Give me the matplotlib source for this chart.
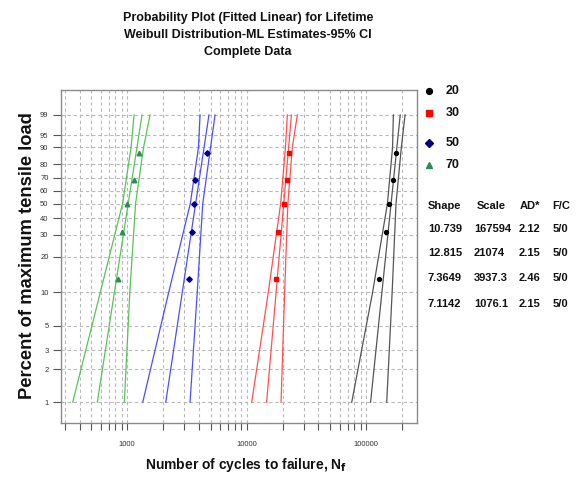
import numpy as np
import matplotlib
matplotlib.use("Agg")
import matplotlib.pyplot as plt
from matplotlib.ticker import FixedLocator, NullFormatter, LogLocator

# ---------------- data ----------------
loads = ["20", "30", "50", "70"]
shape = [10.739, 12.815, 7.3649, 7.1142]
scale = [167594, 21074, 3937.3, 1076.1]
scale_txt = ["167594", "21074", "3937.3", "1076.1"]
ad_stat = ["2.12", "2.15", "2.46", "2.15"]
fc = ["5/0", "5/0", "5/0", "5/0"]

# plotting positions (percent) of the 5 failures
rank_pct = [12.94, 31.48, 50.0, 68.52, 87.06]
cycles_20 = [129200, 146200, 155800, 169300, 178200]
cycles_30 = [17560, 18450, 20600, 21700, 22680]
cycles_50 = [3322, 3478, 3658, 3707, 4644]
cycles_70 = [836, 913, 994, 1145, 1260]

# 95% confidence bands read at these percent levels
ci_pct = [1, 10, 50, 90, 99]
ci_low_20 = [75930, 113600, 151000, 166700, 169300]
ci_up_20 = [149000, 165400, 178200, 197400, 212100]
ci_low_30 = [11050, 15220, 19290, 21160, 21950]
ci_up_30 = [19440, 20840, 22160, 24170, 26610]
ci_low_50 = [1353, 2234, 3381, 3958, 4083]
ci_up_50 = [3367, 3867, 4300, 4995, 5450]
ci_low_70 = [351, 598, 917, 1080, 1145]
ci_up_70 = [949, 1055, 1178, 1374, 1558]

y_ticks = [1, 2, 3, 5, 10, 20, 30, 40, 50, 60, 70, 80, 90, 95, 99]
x_ticks = [1000, 10000, 100000]
fit_pct = [1, 99]

title_lines = ["Probability Plot (Fitted Linear) for Lifetime",
               "Weibull Distribution-ML Estimates-95% CI",
               "Complete Data"]

# ---------------- style ----------------
line_colors = ["#555555", "#ff5050", "#4d4dff", "#55c455"]
marker_colors = ["#000000", "#ff0000", "#00008b", "#2e8b57"]
markers = ["o", "s", "D", "^"]
sans = ["Liberation Sans", "DejaVu Sans"]

cycles = [cycles_20, cycles_30, cycles_50, cycles_70]
ci_low = [ci_low_20, ci_low_30, ci_low_50, ci_low_70]
ci_up = [ci_up_20, ci_up_30, ci_up_50, ci_up_70]


def fwd(p):
    p = np.clip(np.asarray(p, dtype=float), 1e-9, 100 - 1e-9)
    return np.log(-np.log(1 - p / 100.0))


def inv(w):
    return 100.0 * (1 - np.exp(-np.exp(np.asarray(w, dtype=float))))


W, H = 580, 478
fig = plt.figure(figsize=(W / 100, H / 100), dpi=100)
L, R, T, B = 61, 417, 90, 423
ax = fig.add_axes([L / W, (H - B) / H, (R - L) / W, (B - T) / H])

ax.set_xscale("log")
ax.set_yscale("function", functions=(fwd, inv))
ax.set_xlim(280, 267000)
ax.set_ylim(0.642, 99.961)

for i in range(4):
    eta, beta = scale[i], shape[i]
    pf = np.array(fit_pct, dtype=float) / 100.0
    xf = eta * (-np.log(1 - pf)) ** (1.0 / beta)
    ax.plot(xf, fit_pct, color=line_colors[i], lw=0.9, zorder=3)
    ax.plot(ci_low[i], ci_pct, color=line_colors[i], lw=0.9, zorder=3)
    ax.plot(ci_up[i], ci_pct, color=line_colors[i], lw=0.9, zorder=3)
    ms = 2.8 if markers[i] != "^" else 3.3
    ax.plot(cycles[i], rank_pct, linestyle="none", marker=markers[i],
            ms=ms, color=marker_colors[i], mec=marker_colors[i], zorder=4)

# ticks / grid
ax.yaxis.set_major_locator(FixedLocator(y_ticks))
ax.set_yticklabels([str(t) for t in y_ticks])
ax.yaxis.set_minor_locator(FixedLocator([]))
ax.xaxis.set_major_locator(FixedLocator(x_ticks))
ax.set_xticklabels([str(t) for t in x_ticks])
ax.xaxis.set_minor_locator(LogLocator(base=10, subs=np.arange(2, 10)))
ax.xaxis.set_minor_formatter(NullFormatter())

grid_kw = dict(color="#b8b8b8", linestyle=(0, (3, 2.5)), linewidth=0.8)
ax.grid(True, which="major", axis="both", **grid_kw)
ax.grid(True, which="minor", axis="x", **grid_kw)
ax.set_axisbelow(True)

ax.tick_params(axis="both", which="both", direction="out", color="#555555",
               width=0.8, labelcolor="#333333")
ax.tick_params(axis="y", which="major", length=6, pad=3, labelsize=5.5)
ax.tick_params(axis="x", which="major", length=5, pad=8, labelsize=5.5)
ax.tick_params(axis="x", which="minor", length=5)
for lab in ax.get_xticklabels() + ax.get_yticklabels():
    lab.set_family(sans)

for s in ax.spines.values():
    s.set_color("#8a8a8a")
    s.set_linewidth(1.0)

# titles / labels
for k, (ty, txt) in enumerate(zip([18, 35, 52], title_lines)):
    fig.text(248 / W, 1 - ty / H, txt, ha="center", va="center",
             fontsize=9, fontweight="bold", family=sans, color="#111111")
fig.text(28 / W, 1 - 256 / H, "Percent of maximum tensile load",
         rotation=90, ha="center", va="center", fontsize=13.2,
         fontweight="bold", family=sans, color="#111111")
fig.text(246 / W, 1 - 465 / H, r"Number of cycles to failure, N$_\mathbf{f}$",
         ha="center", va="center", fontsize=10, fontweight="bold",
         family=sans, color="#111111")

# legend and parameter table (overlay in pixel coordinates)
ov = fig.add_axes([0, 0, 1, 1], facecolor="none")
ov.set_xlim(0, W)
ov.set_ylim(H, 0)
ov.axis("off")
leg_y = [91, 113, 143, 165]
for i in range(4):
    ov.plot([429], [leg_y[i]], marker=markers[i],
            ms=4.2 if markers[i] != "^" else 4.6,
            color=marker_colors[i], linestyle="none")
    ov.text(446, leg_y[i], loads[i], ha="left", va="center", fontsize=9,
            fontweight="bold", family=sans, color="#111111")

col_x = [428, 474, 519, 553]
headers = ["Shape", "Scale", "AD*", "F/C"]
hdr_x = [428, 477, 520, 552]
for hx, h in zip(hdr_x, headers):
    ov.text(hx, 206, h, ha="left", va="center", fontsize=8,
            fontweight="bold", family=sans, color="#111111")
row_y = [229, 253, 278, 304]
for i in range(4):
    vals = [f"{shape[i]}", scale_txt[i], ad_stat[i], fc[i]]
    for cx, v in zip(col_x, vals):
        ov.text(cx, row_y[i], v, ha="left", va="center", fontsize=8,
                fontweight="bold", family=sans, color="#111111")

fig.savefig("out.png", dpi=100)
